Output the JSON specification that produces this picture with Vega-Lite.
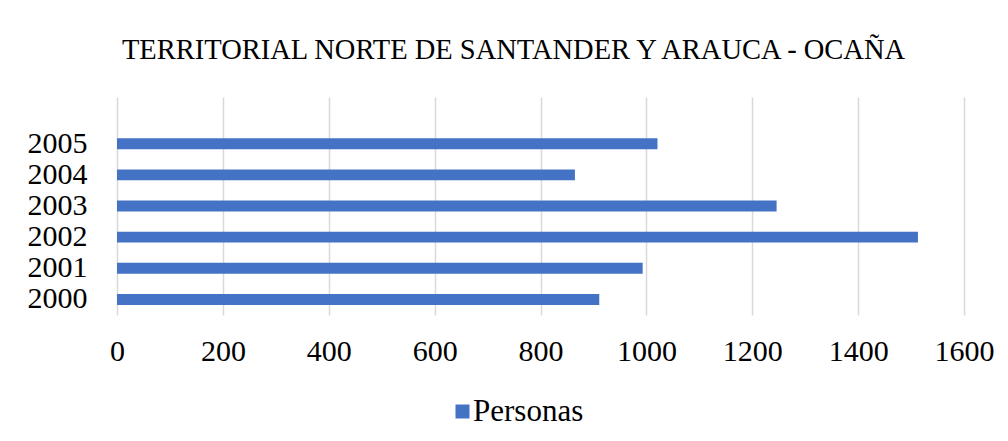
{
  "$schema": "https://vega.github.io/schema/vega-lite/v6.json",
  "width": 847,
  "height": 218,
  "autosize": "none",
  "padding": {"left": 117, "top": 97, "right": 44, "bottom": 126},
  "background": "white",
  "title": {
    "text": "TERRITORIAL NORTE DE SANTANDER Y ARAUCA - OCAÑA",
    "font": "Liberation Serif",
    "fontSize": 28.5,
    "fontWeight": "normal",
    "color": "#000000",
    "anchor": "middle",
    "dx": -27,
    "offset": 33
  },
  "data": {
    "values": [
      {"year": "2000", "serie": "Personas", "value": 911},
      {"year": "2001", "serie": "Personas", "value": 993},
      {"year": "2002", "serie": "Personas", "value": 1513},
      {"year": "2003", "serie": "Personas", "value": 1246},
      {"year": "2004", "serie": "Personas", "value": 865},
      {"year": "2005", "serie": "Personas", "value": 1021}
    ]
  },
  "mark": {"type": "bar", "color": "#4472C4"},
  "encoding": {
    "y": {
      "field": "year",
      "type": "nominal",
      "scale": {"domain": [" ", "2005", "2004", "2003", "2002", "2001", "2000"], "paddingInner": 0.65, "paddingOuter": 0.325},
      "axis": {"title": null, "domain": false, "ticks": false, "grid": false, "labelPadding": 30, "labelFontSize": 30, "labelFont": "Liberation Serif", "labelColor": "#000000"}
    },
    "x": {
      "field": "value",
      "type": "quantitative",
      "scale": {"domain": [0, 1600], "nice": false},
      "axis": {"title": null, "values": [0, 200, 400, 600, 800, 1000, 1200, 1400, 1600], "format": "d", "domain": false, "ticks": false, "grid": true, "gridColor": "#d9d9d9", "gridWidth": 1.5, "labelPadding": 21, "labelFontSize": 30, "labelFont": "Liberation Serif", "labelColor": "#000000", "labelFlush": false}
    },
    "color": {
      "field": "serie",
      "type": "nominal",
      "scale": {"range": ["#4472C4"]},
      "legend": {"title": null, "orient": "none", "legendX": 330, "legendY": 299, "symbolType": "square", "symbolSize": 196, "symbolStrokeWidth": 0, "labelFontSize": 31, "labelFont": "Liberation Serif", "labelColor": "#000000", "labelOffset": -5}
    }
  },
  "config": {"view": {"stroke": null}}
}
